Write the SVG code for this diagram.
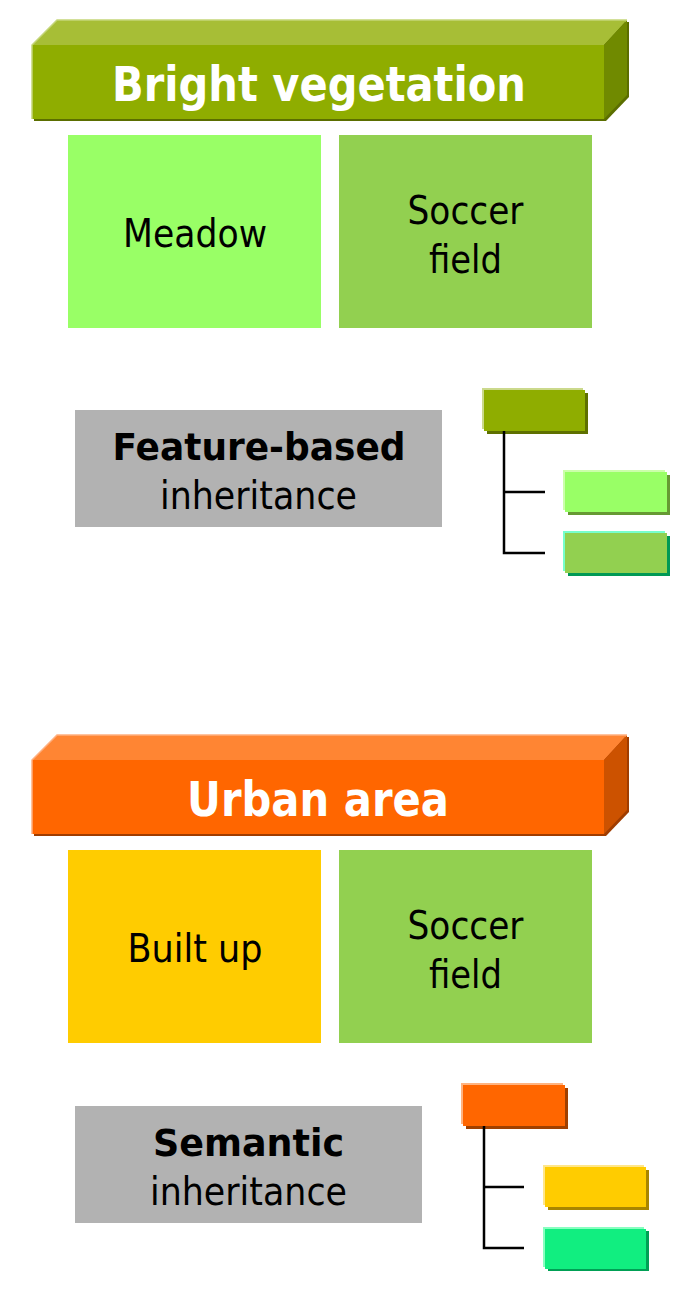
<svg xmlns="http://www.w3.org/2000/svg" width="694" height="1289" viewBox="0 0 694 1289">
<style>
text{font-family:"DejaVu Sans","Liberation Sans",sans-serif;}
.title{font-size:48px;font-weight:bold;fill:#FFFFFF;}
.lbl{font-size:39px;fill:#000000;}
.blbl{font-size:37px;font-weight:bold;fill:#000000;}
.conn{stroke:#000000;stroke-width:2.5;fill:none;}
.gray{fill:#B2B2B2;}
</style>
<rect width="694" height="1289" fill="#FFFFFF"/>

<g id="bar-bright-vegetation">
  <polygon points="34,47 59,22 629,22 629,97 606,121 34,121" fill="#5B6E00"/>
  <rect x="32" y="45" width="572" height="74" fill="#8FAD00"/>
  <polygon points="32,45 57,20 627,20 604,45" fill="#A7BE36"/>
  <polygon points="604,45 627,20 627,95 604,119" fill="#708A00"/>
  <polyline points="32,119 32,45 57,20 627,20" fill="none" stroke="#C5D67A" stroke-width="1.5"/>
  <text class="title" x="319" y="101" text-anchor="middle" textLength="414" lengthAdjust="spacingAndGlyphs">Bright vegetation</text>
</g>

<g id="box-meadow">
  <rect x="68" y="135" width="253" height="193" fill="#99FF66"/>
  <text class="lbl" x="195" y="247" text-anchor="middle" textLength="144" lengthAdjust="spacingAndGlyphs">Meadow</text>
</g>

<g id="box-soccer-1">
  <rect x="339" y="135" width="253" height="193" fill="#92D050"/>
  <text class="lbl" x="465.5" y="224" text-anchor="middle" textLength="116" lengthAdjust="spacingAndGlyphs">Soccer</text>
  <text class="lbl" x="465.5" y="273" text-anchor="middle" textLength="73" lengthAdjust="spacingAndGlyphs">field</text>
</g>

<g id="label-feature-based">
  <rect class="gray" x="75" y="410" width="367" height="117"/>
  <text class="blbl" x="259" y="460" text-anchor="middle" textLength="293" lengthAdjust="spacingAndGlyphs">Feature-based</text>
  <text class="lbl" x="258.5" y="509" text-anchor="middle" textLength="197" lengthAdjust="spacingAndGlyphs">inheritance</text>
</g>

<g id="tree1-parent">
  <rect x="482" y="388" width="101" height="41" fill="#CBD98C"/>
  <rect x="487" y="393" width="101" height="41" fill="#5E7000"/>
  <rect x="484" y="390" width="101" height="41" fill="#8FAD00"/>
</g>
<g id="tree1-child1">
  <rect x="563" y="470" width="102" height="40" fill="#CCFFAA"/>
  <rect x="568" y="475" width="102" height="40" fill="#669933"/>
  <rect x="565" y="472" width="102" height="40" fill="#99FF66"/>
</g>
<g id="tree1-child2">
  <rect x="563" y="531" width="102" height="40" fill="#77FFCC"/>
  <rect x="568" y="536" width="102" height="40" fill="#009955"/>
  <rect x="565" y="533" width="102" height="40" fill="#92D050"/>
</g>

<g id="bar-urban-area">
  <polygon points="34,762 59,737 629,737 629,812 606,836 34,836" fill="#A03D00"/>
  <rect x="32" y="760" width="572" height="74" fill="#FF6600"/>
  <polygon points="32,760 57,735 627,735 604,760" fill="#FF8533"/>
  <polygon points="604,760 627,735 627,810 604,834" fill="#CC5200"/>
  <polyline points="32,834 32,760 57,735 627,735" fill="none" stroke="#FFB080" stroke-width="1.5"/>
  <text class="title" x="318" y="816" text-anchor="middle" textLength="262" lengthAdjust="spacingAndGlyphs">Urban area</text>
</g>

<g id="box-built-up">
  <rect x="68" y="850" width="253" height="193" fill="#FFCC00"/>
  <text class="lbl" x="195" y="962" text-anchor="middle" textLength="135" lengthAdjust="spacingAndGlyphs">Built up</text>
</g>

<g id="box-soccer-2">
  <rect x="339" y="850" width="253" height="193" fill="#92D050"/>
  <text class="lbl" x="465.5" y="939" text-anchor="middle" textLength="116" lengthAdjust="spacingAndGlyphs">Soccer</text>
  <text class="lbl" x="465.5" y="988" text-anchor="middle" textLength="73" lengthAdjust="spacingAndGlyphs">field</text>
</g>

<g id="label-semantic">
  <rect class="gray" x="75" y="1106" width="347" height="117"/>
  <text class="blbl" x="248.5" y="1156" text-anchor="middle" textLength="191" lengthAdjust="spacingAndGlyphs">Semantic</text>
  <text class="lbl" x="248.5" y="1205" text-anchor="middle" textLength="197" lengthAdjust="spacingAndGlyphs">inheritance</text>
</g>

<g id="tree2-parent">
  <rect x="461" y="1083" width="102" height="41" fill="#FFB380"/>
  <rect x="466" y="1088" width="102" height="41" fill="#A04000"/>
  <rect x="463" y="1085" width="102" height="41" fill="#FF6600"/>
</g>
<g id="tree2-child1">
  <rect x="543" y="1165" width="101" height="40" fill="#FFE68A"/>
  <rect x="548" y="1170" width="101" height="40" fill="#A88600"/>
  <rect x="545" y="1167" width="101" height="40" fill="#FFCC00"/>
</g>
<g id="tree2-child2">
  <rect x="543" y="1227" width="101" height="40" fill="#88FFC0"/>
  <rect x="548" y="1231" width="101" height="40" fill="#00A055"/>
  <rect x="545" y="1229" width="101" height="40" fill="#11EE80"/>
</g>

<g id="connectors">
  <polyline class="conn" points="504,431 504,553 545,553"/>
  <line class="conn" x1="504" y1="492" x2="545" y2="492"/>
  <polyline class="conn" points="484,1126 484,1248 524,1248"/>
  <line class="conn" x1="484" y1="1187" x2="524" y2="1187"/>
</g>
</svg>
